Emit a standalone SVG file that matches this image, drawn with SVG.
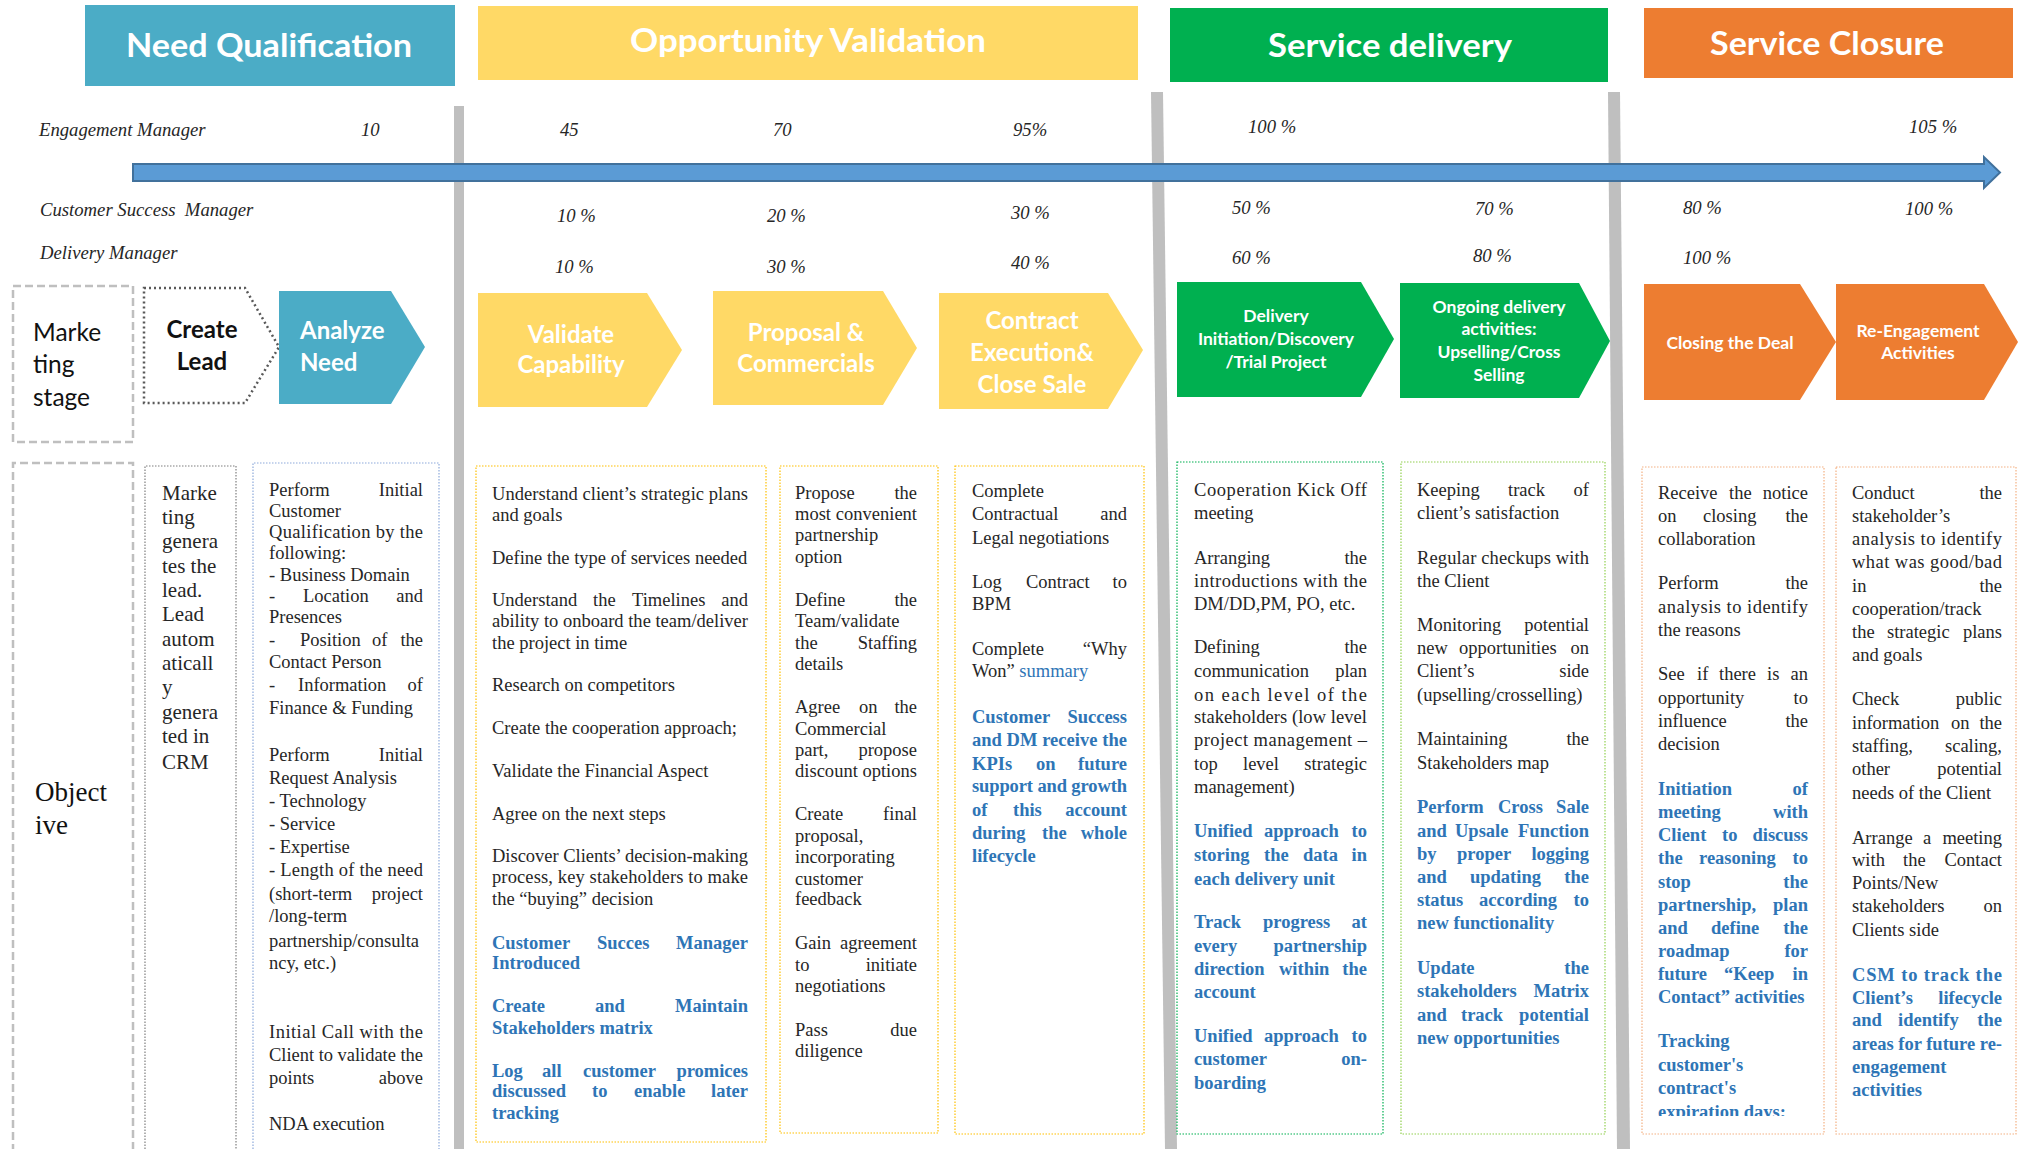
<svg xmlns="http://www.w3.org/2000/svg" width="2018" height="1149" viewBox="0 0 2018 1149">
<style>
  .hd{font-family:Lato,"Open Sans",sans-serif;font-weight:bold;font-size:33px;fill:#fff;text-anchor:middle}
  .ch{font-family:Lato,"Open Sans",sans-serif;font-weight:bold;font-size:24px;fill:#fff;text-anchor:middle}
  .chs{font-family:Lato,"Open Sans",sans-serif;font-weight:bold;font-size:17.5px;fill:#fff;text-anchor:middle}
  .lbl{font-family:Lato,"Open Sans",sans-serif;font-size:24.5px;fill:#111}
  .it{font-family:"Liberation Serif","Times New Roman",serif;font-style:italic;font-size:18.7px;fill:#262626}
  .bd{font-family:"Liberation Serif","Times New Roman",serif;font-size:18.5px;fill:#262626}
  .mk{font-size:21px}
  .obj{font-size:27px;fill:#111}
  .bb{font-weight:bold;fill:#2E75B6}
  .bl{fill:#2E75B6}
  .e{text-anchor:end}
  .sep{fill:#BFBFBF}
  .dash{fill:none;stroke:#BFBFBF;stroke-width:2.5;stroke-dasharray:8 4}
  .dot{fill:none;stroke-width:1.2;stroke-dasharray:1.5 1.5}
</style>
<defs>
  <clipPath id="clip7"><rect x="1642" y="467" width="182" height="649"/></clipPath>
</defs>
<rect width="2018" height="1149" fill="#fff"/>

<!-- phase headers -->
<g id="hdr-need">
  <rect x="85" y="5" width="370" height="81" fill="#4BACC6"/>
  <text class="hd" x="269" y="57" textLength="286" lengthAdjust="spacingAndGlyphs">Need Qualification</text>
</g>
<g id="hdr-opportunity">
  <rect x="478" y="6" width="660" height="74" fill="#FFD966"/>
  <text class="hd" x="808" y="52" textLength="356" lengthAdjust="spacingAndGlyphs">Opportunity Validation</text>
</g>
<g id="hdr-delivery">
  <rect x="1170" y="8" width="438" height="74" fill="#00B050"/>
  <text class="hd" x="1390" y="57" textLength="244" lengthAdjust="spacingAndGlyphs">Service delivery</text>
</g>
<g id="hdr-closure">
  <rect x="1644" y="8" width="369" height="70" fill="#ED7D31"/>
  <text class="hd" x="1827" y="55" textLength="234" lengthAdjust="spacingAndGlyphs">Service Closure</text>
</g>

<!-- phase separators -->
<g id="separators">
  <rect class="sep" x="454" y="106" width="10" height="1043"/>
  <polygon class="sep" points="1151,92 1163,92 1177,1149 1165,1149"/>
  <polygon class="sep" points="1608,92 1620,92 1630,1149 1617,1149"/>
</g>

<!-- timeline arrow -->
<g id="connectors">
  <path d="M133,164 H1984 V157 L2000,172.5 L1984,188 V181 H133 Z" fill="#5B9BD5" stroke="#41719C" stroke-width="2"/>
</g>

<!-- role rows -->
<g id="roles">
  <text class="it" x="39" y="136">Engagement Manager</text>
  <text class="it" x="40" y="216" xml:space="preserve">Customer Success  Manager</text>
  <text class="it" x="40" y="259">Delivery Manager</text>

  <text class="it" x="361" y="136">10</text>
  <text class="it" x="560" y="136">45</text>
  <text class="it" x="773" y="136">70</text>
  <text class="it" x="1013" y="136">95%</text>
  <text class="it" x="1248" y="133">100 %</text>
  <text class="it" x="1909" y="133">105 %</text>

  <text class="it" x="557" y="222">10 %</text>
  <text class="it" x="767" y="222">20 %</text>
  <text class="it" x="1011" y="219">30 %</text>
  <text class="it" x="1232" y="214">50 %</text>
  <text class="it" x="1475" y="215">70 %</text>
  <text class="it" x="1683" y="214">80 %</text>
  <text class="it" x="1905" y="215">100 %</text>

  <text class="it" x="555" y="273">10 %</text>
  <text class="it" x="767" y="273">30 %</text>
  <text class="it" x="1011" y="269">40 %</text>
  <text class="it" x="1232" y="264">60 %</text>
  <text class="it" x="1473" y="262">80 %</text>
  <text class="it" x="1683" y="264">100 %</text>
</g>

<!-- stage chevrons -->
<g id="stage-label">
  <rect class="dash" x="13" y="286" width="120" height="156"/>
  <text class="lbl" x="33" y="341">Marke</text>
  <text class="lbl" x="33" y="373">ting</text>
  <text class="lbl" x="33" y="406">stage</text>
</g>
<g id="create-lead">
  <polygon points="144,288 245,288 279,347 245,403 144,403" fill="none" stroke="#595959" stroke-width="2.5" stroke-dasharray="2 3"/>
  <text class="ch" x="202" y="338" style="fill:#111">Create</text>
  <text class="ch" x="202" y="370" style="fill:#111">Lead</text>
</g>
<g id="analyze-need">
  <polygon points="279,291 391,291 425,347 391,404 279,404" fill="#4BACC6"/>
  <text class="ch" x="300" y="339" style="text-anchor:start">Analyze</text>
  <text class="ch" x="300" y="371" style="text-anchor:start">Need</text>
</g>
<g id="validate-capability">
  <polygon points="478,293 647,293 682,350 647,407 478,407" fill="#FFD966"/>
  <text class="ch" x="571" y="343">Validate</text>
  <text class="ch" x="571" y="373">Capability</text>
</g>
<g id="proposal">
  <polygon points="713,291 883,291 917,348 883,405 713,405" fill="#FFD966"/>
  <text class="ch" x="806" y="341">Proposal &amp;</text>
  <text class="ch" x="806" y="372">Commercials</text>
</g>
<g id="contract">
  <polygon points="939,293 1108,293 1143,350 1108,409 939,409" fill="#FFD966"/>
  <text class="ch" x="1032" y="329">Contract</text>
  <text class="ch" x="1032" y="361">Execution&amp;</text>
  <text class="ch" x="1032" y="393">Close Sale</text>
</g>
<g id="delivery-initiation">
  <polygon points="1177,282 1361,282 1394,339 1361,397 1177,397" fill="#00B050"/>
  <text class="chs" x="1276" y="322">Delivery</text>
  <text class="chs" x="1276" y="345">Initiation/Discovery</text>
  <text class="chs" x="1276" y="368">/Trial Project</text>
</g>
<g id="ongoing-delivery">
  <polygon points="1400,283 1579,283 1610,341 1579,398 1400,398" fill="#00B050"/>
  <text class="chs" x="1499" y="313">Ongoing delivery</text>
  <text class="chs" x="1499" y="335">activities:</text>
  <text class="chs" x="1499" y="358">Upselling/Cross</text>
  <text class="chs" x="1499" y="381">Selling</text>
</g>
<g id="closing-deal">
  <polygon points="1644,284 1800,284 1836,342 1800,400 1644,400" fill="#ED7D31"/>
  <text class="chs" x="1730" y="349">Closing the Deal</text>
</g>
<g id="re-engagement">
  <polygon points="1836,284 1984,284 2018,342 1984,400 1836,400" fill="#ED7D31"/>
  <text class="chs" x="1918" y="337">Re-Engagement</text>
  <text class="chs" x="1918" y="359">Activities</text>
</g>

<!-- objective row -->
<g id="objective-label">
  <path class="dash" d="M13,1152 V463 H133 V1152"/>
  <text class="bd obj" x="35" y="801">Object</text>
  <text class="bd obj" x="35" y="834">ive</text>
</g>

<g id="obj-marketing">
  <path class="dot" stroke="#7F7F7F" d="M145,1152 V466 H236 V1152"/>
  <text class="bd mk" x="162" y="500">Marke</text>
  <text class="bd mk" x="162" y="524">ting</text>
  <text class="bd mk" x="162" y="548">genera</text>
  <text class="bd mk" x="162" y="573">tes the</text>
  <text class="bd mk" x="162" y="597">lead.</text>
  <text class="bd mk" x="162" y="621">Lead</text>
  <text class="bd mk" x="162" y="646">autom</text>
  <text class="bd mk" x="162" y="670">aticall</text>
  <text class="bd mk" x="162" y="694">y</text>
  <text class="bd mk" x="162" y="719">genera</text>
  <text class="bd mk" x="162" y="743">ted in</text>
  <text class="bd mk" x="162" y="769">CRM</text>
</g>

<g id="obj-analyze">
  <path class="dot" stroke="#8EAADB" d="M253,1152 V463 H439 V1152"/>
  <text class="bd" y="496"><tspan x="269">Perform</tspan><tspan class="e" x="423">Initial</tspan></text>
  <text class="bd" x="269" y="517">Customer</text>
  <text class="bd" x="269" y="538" textLength="154" lengthAdjust="spacing">Qualification by the</text>
  <text class="bd" x="269" y="559">following:</text>
  <text class="bd" x="269" y="581">- Business Domain</text>
  <text class="bd" y="602"><tspan x="269">-</tspan><tspan x="303">Location</tspan><tspan class="e" x="423">and</tspan></text>
  <text class="bd" x="269" y="623">Presences</text>
  <text class="bd" y="646"><tspan x="269">-</tspan><tspan x="300">Position</tspan><tspan x="372">of</tspan><tspan class="e" x="423">the</tspan></text>
  <text class="bd" x="269" y="668">Contact Person</text>
  <text class="bd" y="691"><tspan x="269">-</tspan><tspan x="298">Information</tspan><tspan class="e" x="423">of</tspan></text>
  <text class="bd" x="269" y="714">Finance &amp; Funding</text>
  <text class="bd" y="761"><tspan x="269">Perform</tspan><tspan class="e" x="423">Initial</tspan></text>
  <text class="bd" x="269" y="784">Request Analysis</text>
  <text class="bd" x="269" y="807">- Technology</text>
  <text class="bd" x="269" y="830">- Service</text>
  <text class="bd" x="269" y="853">- Expertise</text>
  <text class="bd" x="269" y="876" textLength="154" lengthAdjust="spacing">- Length of the need</text>
  <text class="bd" y="900"><tspan x="269">(short-term</tspan><tspan class="e" x="423">project</tspan></text>
  <text class="bd" x="269" y="922">/long-term</text>
  <text class="bd" x="269" y="947">partnership/consulta</text>
  <text class="bd" x="269" y="969">ncy, etc.)</text>
  <text class="bd" x="269" y="1038" textLength="154" lengthAdjust="spacing">Initial Call with the</text>
  <text class="bd" x="269" y="1061" textLength="154" lengthAdjust="spacing">Client to validate the</text>
  <text class="bd" y="1084"><tspan x="269">points</tspan><tspan class="e" x="423">above</tspan></text>
  <text class="bd" x="269" y="1130">NDA execution</text>
</g>

<g id="obj-validate">
  <rect class="dot" stroke="#FFC000" x="476" y="466" width="290" height="676"/>
  <g transform="translate(0,3)">
  <text class="bd" x="492" y="497" textLength="256" lengthAdjust="spacing">Understand client’s strategic plans</text>
  <text class="bd" x="492" y="518">and goals</text>
  <text class="bd" x="492" y="561">Define the type of services needed</text>
  <text class="bd" y="603"><tspan x="492">Understand</tspan><tspan x="593">the</tspan><tspan x="632">Timelines</tspan><tspan class="e" x="748">and</tspan></text>
  <text class="bd" x="492" y="624" textLength="256" lengthAdjust="spacing">ability to onboard the team/deliver</text>
  <text class="bd" x="492" y="646">the project in time</text>
  <text class="bd" x="492" y="688">Research on competitors</text>
  <text class="bd" x="492" y="731">Create the cooperation approach;</text>
  <text class="bd" x="492" y="774">Validate the Financial Aspect</text>
  <text class="bd" x="492" y="817">Agree on the next steps</text>
  <text class="bd" x="492" y="859" textLength="256" lengthAdjust="spacing">Discover Clients’ decision-making</text>
  <text class="bd" x="492" y="880" textLength="256" lengthAdjust="spacing">process, key stakeholders to make</text>
  <text class="bd" x="492" y="902">the “buying” decision</text>
  <text class="bd bb" y="946"><tspan x="492">Customer</tspan><tspan x="597">Succes</tspan><tspan class="e" x="748">Manager</tspan></text>
  <text class="bd bb" x="492" y="966">Introduced</text>
  <text class="bd bb" y="1009"><tspan x="492">Create</tspan><tspan x="595">and</tspan><tspan class="e" x="748">Maintain</tspan></text>
  <text class="bd bb" x="492" y="1031">Stakeholders matrix</text>
  <text class="bd bb" y="1074"><tspan x="492">Log</tspan><tspan x="542">all</tspan><tspan x="583">customer</tspan><tspan class="e" x="748">promices</tspan></text>
  <text class="bd bb" y="1094"><tspan x="492">discussed</tspan><tspan x="592">to</tspan><tspan x="634">enable</tspan><tspan class="e" x="748">later</tspan></text>
  <text class="bd bb" x="492" y="1116">tracking</text>
  </g>
</g>

<g id="obj-proposal">
  <rect class="dot" stroke="#FFC000" x="780" y="466" width="158" height="667"/>
  <g transform="translate(0,7)">
  <text class="bd" y="492"><tspan x="795">Propose</tspan><tspan class="e" x="917">the</tspan></text>
  <text class="bd" y="513"><tspan x="795">most</tspan><tspan class="e" x="917">convenient</tspan></text>
  <text class="bd" x="795" y="534">partnership</text>
  <text class="bd" x="795" y="556">option</text>
  <text class="bd" y="599"><tspan x="795">Define</tspan><tspan class="e" x="917">the</tspan></text>
  <text class="bd" x="795" y="620">Team/validate</text>
  <text class="bd" y="642"><tspan x="795">the</tspan><tspan class="e" x="917">Staffing</tspan></text>
  <text class="bd" x="795" y="663">details</text>
  <text class="bd" y="706"><tspan x="795">Agree</tspan><tspan x="859">on</tspan><tspan class="e" x="917">the</tspan></text>
  <text class="bd" x="795" y="728">Commercial</text>
  <text class="bd" y="749"><tspan x="795">part,</tspan><tspan class="e" x="917">propose</tspan></text>
  <text class="bd" x="795" y="770" textLength="122" lengthAdjust="spacing">discount options</text>
  <text class="bd" y="813"><tspan x="795">Create</tspan><tspan class="e" x="917">final</tspan></text>
  <text class="bd" x="795" y="835">proposal,</text>
  <text class="bd" x="795" y="856">incorporating</text>
  <text class="bd" x="795" y="878">customer</text>
  <text class="bd" x="795" y="898">feedback</text>
  <text class="bd" y="942"><tspan x="795">Gain</tspan><tspan class="e" x="917">agreement</tspan></text>
  <text class="bd" y="964"><tspan x="795">to</tspan><tspan class="e" x="917">initiate</tspan></text>
  <text class="bd" x="795" y="985">negotiations</text>
  <text class="bd" y="1029"><tspan x="795">Pass</tspan><tspan class="e" x="917">due</tspan></text>
  <text class="bd" x="795" y="1050">diligence</text>
  </g>
</g>

<g id="obj-contract">
  <rect class="dot" stroke="#FFC000" x="955" y="466" width="189" height="668"/>
  <text class="bd" x="972" y="497">Complete</text>
  <text class="bd" y="520"><tspan x="972">Contractual</tspan><tspan class="e" x="1127">and</tspan></text>
  <text class="bd" x="972" y="544">Legal negotiations</text>
  <text class="bd" y="588"><tspan x="972">Log</tspan><tspan x="1026">Contract</tspan><tspan class="e" x="1127">to</tspan></text>
  <text class="bd" x="972" y="610">BPM</text>
  <text class="bd" y="655"><tspan x="972">Complete</tspan><tspan class="e" x="1127">“Why</tspan></text>
  <text class="bd" x="972" y="677">Won” <tspan class="bl">summary</tspan></text>
  <text class="bd bb" y="723"><tspan x="972">Customer</tspan><tspan class="e" x="1127">Success</tspan></text>
  <text class="bd bb" x="972" y="746" textLength="155" lengthAdjust="spacing">and DM receive the</text>
  <text class="bd bb" y="770"><tspan x="972">KPIs</tspan><tspan x="1036">on</tspan><tspan class="e" x="1127">future</tspan></text>
  <text class="bd bb" x="972" y="792" textLength="155" lengthAdjust="spacing">support and growth</text>
  <text class="bd bb" y="816"><tspan x="972">of</tspan><tspan x="1013">this</tspan><tspan class="e" x="1127">account</tspan></text>
  <text class="bd bb" y="839"><tspan x="972">during</tspan><tspan x="1042">the</tspan><tspan class="e" x="1127">whole</tspan></text>
  <text class="bd bb" x="972" y="862">lifecycle</text>
</g>

<g id="obj-delivery-initiation">
  <rect class="dot" stroke="#00B050" x="1177" y="462" width="206" height="672"/>
  <text class="bd" x="1194" y="496" textLength="173" lengthAdjust="spacing">Cooperation Kick Off</text>
  <text class="bd" x="1194" y="519">meeting</text>
  <text class="bd" y="564"><tspan x="1194">Arranging</tspan><tspan class="e" x="1367">the</tspan></text>
  <text class="bd" x="1194" y="587" textLength="173" lengthAdjust="spacing">introductions with the</text>
  <text class="bd" x="1194" y="610">DM/DD,PM, PO, etc.</text>
  <text class="bd" y="653"><tspan x="1194">Defining</tspan><tspan class="e" x="1367">the</tspan></text>
  <text class="bd" y="677"><tspan x="1194">communication</tspan><tspan class="e" x="1367">plan</tspan></text>
  <text class="bd" x="1194" y="701" textLength="173" lengthAdjust="spacing">on each level of the</text>
  <text class="bd" x="1194" y="723" textLength="173" lengthAdjust="spacing">stakeholders (low level</text>
  <text class="bd" x="1194" y="746" textLength="173" lengthAdjust="spacing">project management –</text>
  <text class="bd" y="770"><tspan x="1194">top</tspan><tspan x="1243">level</tspan><tspan class="e" x="1367">strategic</tspan></text>
  <text class="bd" x="1194" y="793">management)</text>
  <text class="bd bb" y="837"><tspan x="1194">Unified</tspan><tspan x="1264">approach</tspan><tspan class="e" x="1367">to</tspan></text>
  <text class="bd bb" y="861"><tspan x="1194">storing</tspan><tspan x="1264">the</tspan><tspan x="1303">data</tspan><tspan class="e" x="1367">in</tspan></text>
  <text class="bd bb" x="1194" y="885">each delivery unit</text>
  <text class="bd bb" y="928"><tspan x="1194">Track</tspan><tspan x="1263">progress</tspan><tspan class="e" x="1367">at</tspan></text>
  <text class="bd bb" y="952"><tspan x="1194">every</tspan><tspan class="e" x="1367">partnership</tspan></text>
  <text class="bd bb" y="975"><tspan x="1194">direction</tspan><tspan x="1279">within</tspan><tspan class="e" x="1367">the</tspan></text>
  <text class="bd bb" x="1194" y="998">account</text>
  <text class="bd bb" y="1042"><tspan x="1194">Unified</tspan><tspan x="1264">approach</tspan><tspan class="e" x="1367">to</tspan></text>
  <text class="bd bb" y="1065"><tspan x="1194">customer</tspan><tspan class="e" x="1367">on-</tspan></text>
  <text class="bd bb" x="1194" y="1089">boarding</text>
</g>

<g id="obj-ongoing">
  <rect class="dot" stroke="#92D050" x="1401" y="462" width="204" height="672"/>
  <text class="bd" y="496"><tspan x="1417">Keeping</tspan><tspan x="1508">track</tspan><tspan class="e" x="1589">of</tspan></text>
  <text class="bd" x="1417" y="519">client’s satisfaction</text>
  <text class="bd" x="1417" y="564" textLength="172" lengthAdjust="spacing">Regular checkups with</text>
  <text class="bd" x="1417" y="587">the Client</text>
  <text class="bd" y="631"><tspan x="1417">Monitoring</tspan><tspan class="e" x="1589">potential</tspan></text>
  <text class="bd" y="654"><tspan x="1417">new</tspan><tspan x="1459">opportunities</tspan><tspan class="e" x="1589">on</tspan></text>
  <text class="bd" y="677"><tspan x="1417">Client’s</tspan><tspan class="e" x="1589">side</tspan></text>
  <text class="bd" x="1417" y="701">(upselling/crosselling)</text>
  <text class="bd" y="745"><tspan x="1417">Maintaining</tspan><tspan class="e" x="1589">the</tspan></text>
  <text class="bd" x="1417" y="769">Stakeholders map</text>
  <text class="bd bb" y="813"><tspan x="1417">Perform</tspan><tspan x="1498">Cross</tspan><tspan class="e" x="1589">Sale</tspan></text>
  <text class="bd bb" y="837"><tspan x="1417">and</tspan><tspan x="1455">Upsale</tspan><tspan class="e" x="1589">Function</tspan></text>
  <text class="bd bb" y="860"><tspan x="1417">by</tspan><tspan x="1457">proper</tspan><tspan class="e" x="1589">logging</tspan></text>
  <text class="bd bb" y="883"><tspan x="1417">and</tspan><tspan x="1470">updating</tspan><tspan class="e" x="1589">the</tspan></text>
  <text class="bd bb" y="906"><tspan x="1417">status</tspan><tspan x="1479">according</tspan><tspan class="e" x="1589">to</tspan></text>
  <text class="bd bb" x="1417" y="929">new functionality</text>
  <text class="bd bb" y="974"><tspan x="1417">Update</tspan><tspan class="e" x="1589">the</tspan></text>
  <text class="bd bb" y="997"><tspan x="1417">stakeholders</tspan><tspan class="e" x="1589">Matrix</tspan></text>
  <text class="bd bb" y="1021"><tspan x="1417">and</tspan><tspan x="1461">track</tspan><tspan class="e" x="1589">potential</tspan></text>
  <text class="bd bb" x="1417" y="1044">new opportunities</text>
</g>

<g id="obj-closing">
  <rect class="dot" stroke="#F4B183" x="1642" y="467" width="182" height="667"/>
  <g clip-path="url(#clip7)">
  <text class="bd" y="499"><tspan x="1658">Receive</tspan><tspan x="1729">the</tspan><tspan class="e" x="1808">notice</tspan></text>
  <text class="bd" y="522"><tspan x="1658">on</tspan><tspan x="1703">closing</tspan><tspan class="e" x="1808">the</tspan></text>
  <text class="bd" x="1658" y="545">collaboration</text>
  <text class="bd" y="589"><tspan x="1658">Perform</tspan><tspan class="e" x="1808">the</tspan></text>
  <text class="bd" x="1658" y="613" textLength="150" lengthAdjust="spacing">analysis to identify</text>
  <text class="bd" x="1658" y="636">the reasons</text>
  <text class="bd" y="680"><tspan x="1658">See</tspan><tspan x="1697">if</tspan><tspan x="1719">there</tspan><tspan x="1767">is</tspan><tspan class="e" x="1808">an</tspan></text>
  <text class="bd" y="704"><tspan x="1658">opportunity</tspan><tspan class="e" x="1808">to</tspan></text>
  <text class="bd" y="727"><tspan x="1658">influence</tspan><tspan class="e" x="1808">the</tspan></text>
  <text class="bd" x="1658" y="750">decision</text>
  <text class="bd bb" y="795"><tspan x="1658">Initiation</tspan><tspan class="e" x="1808">of</tspan></text>
  <text class="bd bb" y="818"><tspan x="1658">meeting</tspan><tspan class="e" x="1808">with</tspan></text>
  <text class="bd bb" y="841"><tspan x="1658">Client</tspan><tspan x="1722">to</tspan><tspan class="e" x="1808">discuss</tspan></text>
  <text class="bd bb" y="864"><tspan x="1658">the</tspan><tspan x="1699">reasoning</tspan><tspan class="e" x="1808">to</tspan></text>
  <text class="bd bb" y="888"><tspan x="1658">stop</tspan><tspan class="e" x="1808">the</tspan></text>
  <text class="bd bb" y="911"><tspan x="1658">partnership,</tspan><tspan class="e" x="1808">plan</tspan></text>
  <text class="bd bb" y="934"><tspan x="1658">and</tspan><tspan x="1711">define</tspan><tspan class="e" x="1808">the</tspan></text>
  <text class="bd bb" y="957"><tspan x="1658">roadmap</tspan><tspan class="e" x="1808">for</tspan></text>
  <text class="bd bb" y="980"><tspan x="1658">future</tspan><tspan x="1724">“Keep</tspan><tspan class="e" x="1808">in</tspan></text>
  <text class="bd bb" x="1658" y="1003">Contact” activities</text>
  <text class="bd bb" x="1658" y="1047">Tracking</text>
  <text class="bd bb" x="1658" y="1071">customer's</text>
  <text class="bd bb" x="1658" y="1094">contract's</text>
  <text class="bd bb" x="1658" y="1118">expiration days;</text>
  </g>
</g>

<g id="obj-reengagement">
  <rect class="dot" stroke="#F4B183" x="1836" y="467" width="180" height="667"/>
  <text class="bd" y="499"><tspan x="1852">Conduct</tspan><tspan class="e" x="2002">the</tspan></text>
  <text class="bd" x="1852" y="522">stakeholder’s</text>
  <text class="bd" x="1852" y="545" textLength="150" lengthAdjust="spacing">analysis to identify</text>
  <text class="bd" x="1852" y="568" textLength="150" lengthAdjust="spacing">what was good/bad</text>
  <text class="bd" y="592"><tspan x="1852">in</tspan><tspan class="e" x="2002">the</tspan></text>
  <text class="bd" x="1852" y="615">cooperation/track</text>
  <text class="bd" y="638"><tspan x="1852">the</tspan><tspan x="1887">strategic</tspan><tspan class="e" x="2002">plans</tspan></text>
  <text class="bd" x="1852" y="661">and goals</text>
  <text class="bd" y="705"><tspan x="1852">Check</tspan><tspan class="e" x="2002">public</tspan></text>
  <text class="bd" y="729"><tspan x="1852">information</tspan><tspan x="1951">on</tspan><tspan class="e" x="2002">the</tspan></text>
  <text class="bd" y="752"><tspan x="1852">staffing,</tspan><tspan class="e" x="2002">scaling,</tspan></text>
  <text class="bd" y="775"><tspan x="1852">other</tspan><tspan class="e" x="2002">potential</tspan></text>
  <text class="bd" x="1852" y="799">needs of the Client</text>
  <text class="bd" y="844"><tspan x="1852">Arrange</tspan><tspan x="1923">a</tspan><tspan class="e" x="2002">meeting</tspan></text>
  <text class="bd" y="866"><tspan x="1852">with</tspan><tspan x="1903">the</tspan><tspan class="e" x="2002">Contact</tspan></text>
  <text class="bd" x="1852" y="889">Points/New</text>
  <text class="bd" y="912"><tspan x="1852">stakeholders</tspan><tspan class="e" x="2002">on</tspan></text>
  <text class="bd" x="1852" y="936">Clients side</text>
  <text class="bd bb" x="1852" y="981" textLength="150" lengthAdjust="spacing">CSM to track the</text>
  <text class="bd bb" y="1004"><tspan x="1852">Client’s</tspan><tspan class="e" x="2002">lifecycle</tspan></text>
  <text class="bd bb" y="1026"><tspan x="1852">and</tspan><tspan x="1898">identify</tspan><tspan class="e" x="2002">the</tspan></text>
  <text class="bd bb" x="1852" y="1050" textLength="150" lengthAdjust="spacing">areas for future re-</text>
  <text class="bd bb" x="1852" y="1073">engagement</text>
  <text class="bd bb" x="1852" y="1096">activities</text>
</g>
</svg>
